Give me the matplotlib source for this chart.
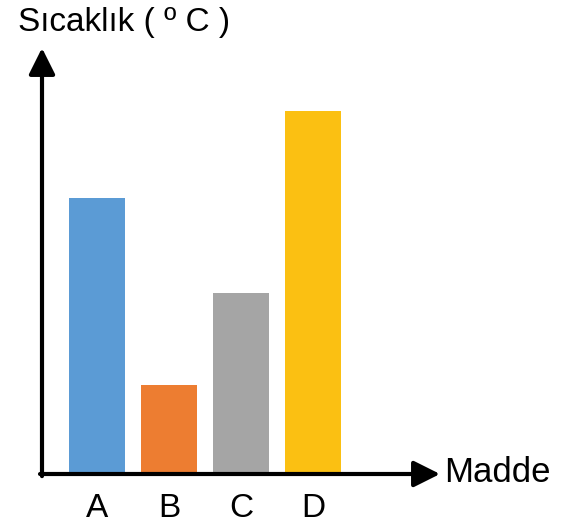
import matplotlib
matplotlib.use("Agg")
import matplotlib.pyplot as plt

plt.rcParams['font.family'] = ['Liberation Sans', 'DejaVu Sans']

maddeler = ["A", "B", "C", "D"]
sicaklik = [3.1, 1.0, 2.03, 4.08]
renkler = ["#5B9BD5", "#ED7D31", "#A5A5A5", "#FBC012"]

W, H = 569, 529
fig = plt.figure(figsize=(W / 100, H / 100), dpi=100)
# axes box: x from 42 px to 440 px, y from 474 px (bottom) to 48 px (top)
ax = fig.add_axes([42 / W, 1 - 474 / H, (440 - 42) / W, (474 - 48) / H])

x = range(len(maddeler))
ax.bar(x, sicaklik, width=0.78, color=renkler)
ax.set_xlim(-0.76, 4.76)
ax.set_ylim(0, 4.79)

for s in ax.spines.values():
    s.set_visible(False)
ax.set_yticks([])
ax.set_xticks(list(x))
ax.set_xticklabels(maddeler, fontsize=24)
ax.tick_params(axis='x', length=0, pad=14)

arrow = dict(arrowstyle='-|>,head_length=0.8,head_width=0.4', color='black',
             lw=3, mutation_scale=20, shrinkA=0, shrinkB=0)
ax.annotate('', xy=(0, 1), xytext=(0, -0.005), xycoords='axes fraction',
            arrowprops=arrow)
ax.annotate('', xy=(1, 0), xytext=(-0.005, 0), xycoords='axes fraction',
            arrowprops=arrow)

fig.text(18 / W, 1 - 22 / H, "Sıcaklık ( º C )", fontsize=24, va='center', ha='left')
fig.text(444 / W, 1 - 472 / H, "Madde", fontsize=25, va='center', ha='left')

fig.savefig("out.png", dpi=100)
